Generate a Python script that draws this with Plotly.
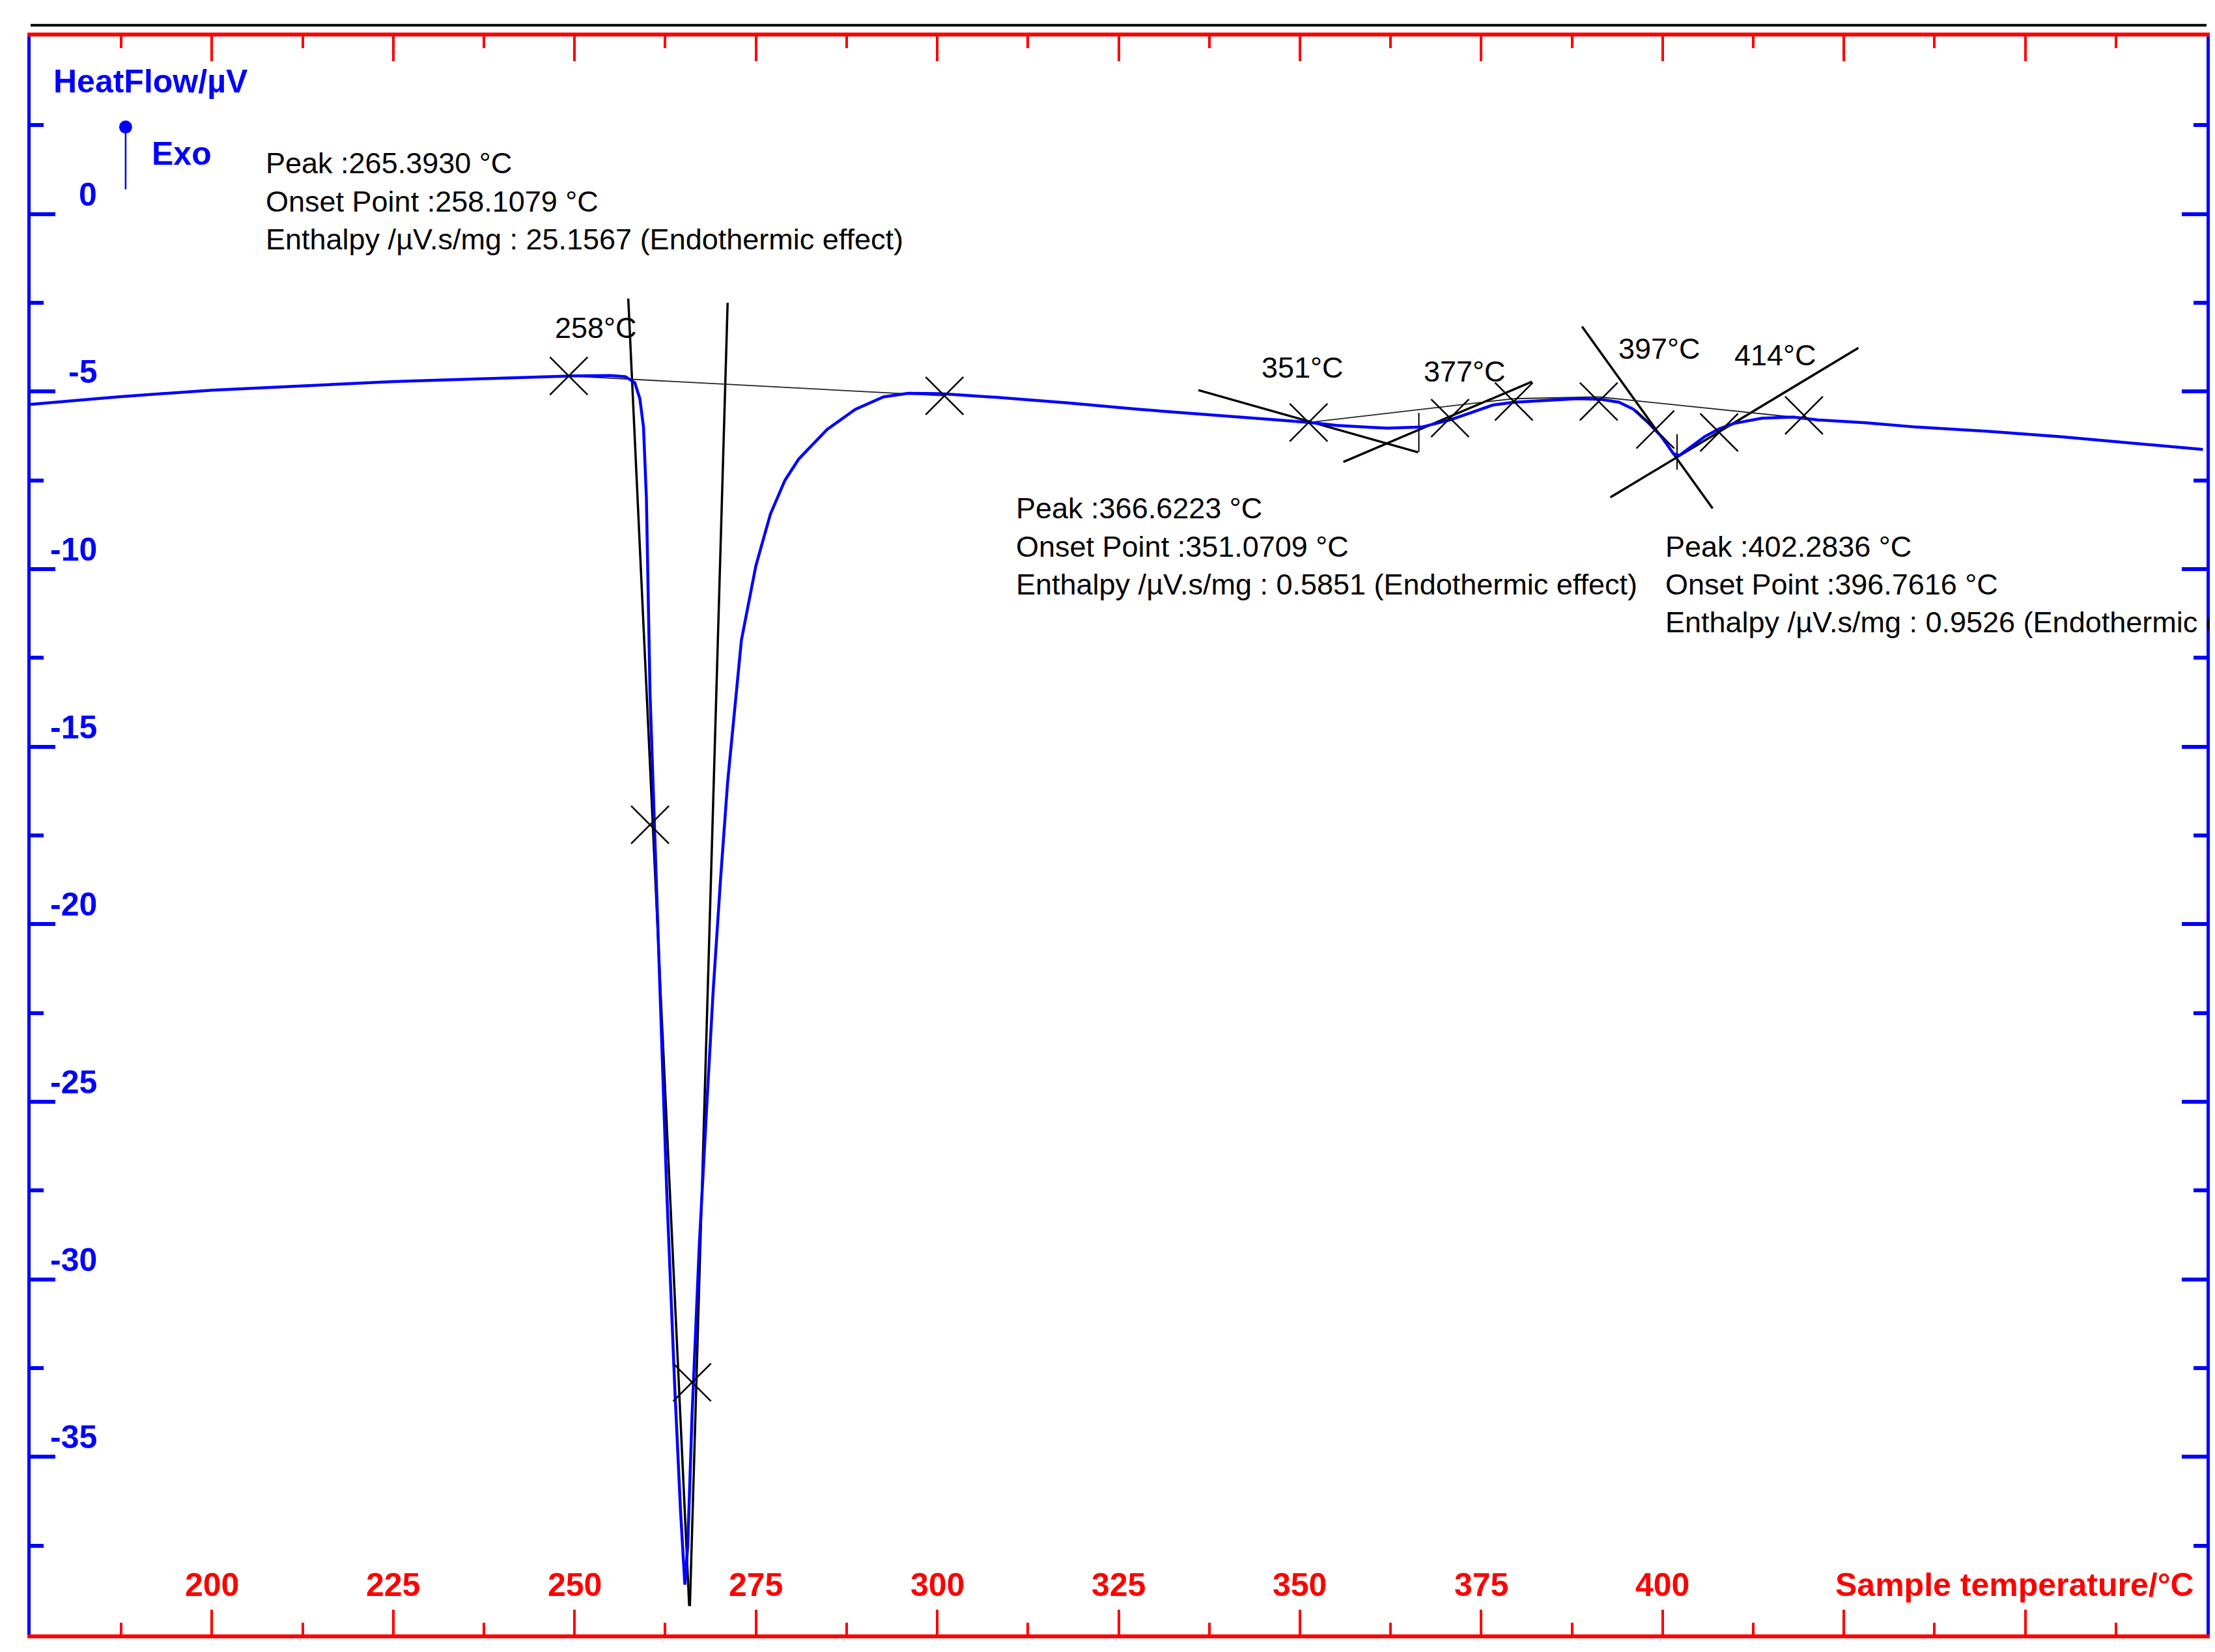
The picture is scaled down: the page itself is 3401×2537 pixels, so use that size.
import plotly.graph_objects as go

temp = [175, 187, 200, 212, 225, 237, 250, 255, 257, 258.3, 259.0, 259.5, 259.9, 260.4, 261.5, 262.7, 263.8, 264.6, 265.2, 265.6, 266.2,
        267.2, 268.2, 269.1, 270.1, 271.1, 273, 275, 277, 279, 280.9, 284.8, 288.7, 292.6, 296, 300.4, 308, 318, 327.7, 338, 347, 351.2,
        355, 358.9, 362, 366.8, 370.7, 373.5, 376.6, 379.5, 382.5, 388.3, 391.5, 394, 396, 398, 400, 401.5, 402.3, 404, 405.8, 407.8, 409.8,
        413.7, 418, 421.5, 428, 435, 445, 454.7, 465, 474.5]
heat = [-5.36, -5.15, -4.96, -4.85, -4.72, -4.64, -4.56, -4.55, -4.58, -4.75, -5.2, -6.0, -8.0, -13.5, -20.5, -27.5, -33.0, -36.5, -38.6, -37.5, -33.8,
        -29.0, -25.2, -21.9, -18.8, -16.0, -12.0, -9.9, -8.45, -7.5, -6.9, -6.07, -5.5, -5.15, -5.05, -5.06, -5.16, -5.32, -5.5, -5.65, -5.8, -5.87,
        -5.95, -6.0, -6.03, -6.0, -5.8, -5.6, -5.38, -5.3, -5.26, -5.2, -5.22, -5.3, -5.5, -5.87, -6.3, -6.75, -6.8, -6.55, -6.27, -6.05, -5.9,
        -5.75, -5.72, -5.8, -5.88, -6.0, -6.12, -6.27, -6.45, -6.63]

cross_x = [249.2, 260.4, 266.2, 301.0, 351.2, 370.7, 379.5, 391.2, 399.0, 407.8, 419.5]
cross_y = [-4.56, -17.2, -32.9, -5.12, -5.87, -5.75, -5.28, -5.28, -6.07, -6.15, -5.67]

tangents = [((257.4, -2.38), (265.8, -39.2)), ((271.1, -2.5), (265.9, -39.2)),
            ((336.0, -4.96), (366.3, -6.71)), ((356.0, -6.98), (382.0, -4.72)),
            ((388.9, -3.17), (406.9, -8.29)), ((392.8, -7.98), (427.0, -3.77))]
baselines = [((249.2, -4.56), (301.0, -5.12)), ((351.2, -5.87), (379.5, -5.2)),
             ((379.5, -5.2), (391.2, -5.15)), ((391.2, -5.15), (419.5, -5.75))]
vticks = [((366.4, -5.6), (366.4, -6.7)), ((402.0, -6.2), (402.0, -7.2))]

temp_labels = ["258°C", "351°C", "377°C", "397°C", "414°C"]
temp_label_x = [252.9, 350.4, 372.7, 399.6, 415.6]
temp_label_y = [-3.2, -4.33, -4.44, -3.8, -3.97]

blocks = [
    (207.2, [1.43, 0.36, -0.71], ["Peak :265.3930 °C", "Onset Point :258.1079 °C", "Enthalpy /µV.s/mg : 25.1567 (Endothermic effect)"]),
    (310.7, [-8.29, -9.37, -10.44], ["Peak :366.6223 °C", "Onset Point :351.0709 °C", "Enthalpy /µV.s/mg : 0.5851 (Endothermic effect)"]),
    (400.2, [-9.37, -10.44, -11.5], ["Peak :402.2836 °C", "Onset Point :396.7616 °C", "Enthalpy /µV.s/mg : 0.9526 (Endothermic e"]),
]

x_ticks = [200, 225, 250, 275, 300, 325, 350, 375, 400]
y_ticks = [0, -5, -10, -15, -20, -25, -30, -35]

FONT = "Liberation Sans, Arial"
BOLD = dict(family=FONT, size=50, weight="bold")
fig = go.Figure()
for (a, b) in tangents:
    fig.add_trace(go.Scatter(x=[a[0], b[0]], y=[a[1], b[1]], mode="lines", line=dict(color="black", width=3.5), hoverinfo="skip"))
for (a, b) in baselines:
    fig.add_trace(go.Scatter(x=[a[0], b[0]], y=[a[1], b[1]], mode="lines", line=dict(color="#222", width=1.8), hoverinfo="skip"))
for (a, b) in vticks:
    fig.add_trace(go.Scatter(x=[a[0], b[0]], y=[a[1], b[1]], mode="lines", line=dict(color="black", width=2), hoverinfo="skip"))
fig.add_trace(go.Scatter(x=temp, y=heat, mode="lines", line=dict(color="#0000ff", width=4.5)))
fig.add_trace(go.Scatter(x=cross_x, y=cross_y, mode="markers",
                         marker=dict(symbol="x-thin-open", size=58, color="black", line=dict(color="black", width=2.5))))

for t, x, y in zip(temp_labels, temp_label_x, temp_label_y):
    fig.add_annotation(x=x, y=y, text=t, showarrow=False, font=dict(family=FONT, size=45, color="black"))
for x, ys, texts in blocks:
    for y, t in zip(ys, texts):
        fig.add_annotation(x=x, y=y, text=t, showarrow=False, xanchor="left", font=dict(family=FONT, size=45, color="black"))
for v in x_ticks:
    fig.add_annotation(x=v, y=-38.6, text=str(v), showarrow=False, font=dict(BOLD, color="red"))
fig.add_annotation(x=473.5, y=-38.6, text="Sample temperature/°C", xanchor="right", showarrow=False, font=dict(BOLD, color="red"))
for v in y_ticks:
    fig.add_annotation(x=184.3, y=v + 0.55, text=str(v), showarrow=False, xanchor="right", font=dict(BOLD, color="#0000ff"))
fig.add_annotation(x=178, y=3.73, text="HeatFlow/µV", xanchor="left", showarrow=False, font=dict(BOLD, color="#0000ff"))
fig.add_annotation(x=191.5, y=1.7, text="Exo", xanchor="left", showarrow=False, font=dict(BOLD, color="#0000ff"))
fig.add_annotation(x=188.1, y=2.45, ax=188.1, ay=0.67, xref="x", yref="y", axref="x", ayref="y",
                   text="", showarrow=True, arrowhead=6, arrowsize=2, arrowwidth=2.5, arrowcolor="#0000ff")

fig.add_shape(type="line", xref="paper", yref="paper", x0=0, x1=1, y0=1.007, y1=1.007, line=dict(color="black", width=4))

fig.update_layout(width=3401, height=2537, margin=dict(l=39, r=21, t=48, b=35), showlegend=False,
                  plot_bgcolor="white", paper_bgcolor="white")
fig.update_xaxes(range=[175, 475], showgrid=False, zeroline=False, showline=True, linecolor="red", linewidth=6, mirror="allticks",
                 ticks="inside", tickcolor="red", tickwidth=3.5, ticklen=38, tick0=0, dtick=25, showticklabels=False,
                 minor=dict(ticks="inside", tickcolor="red", tickwidth=3.5, ticklen=18, dtick=12.5, tick0=0))
fig.update_yaxes(range=[-40, 5], showgrid=False, zeroline=False, showline=True, linecolor="#0000ff", linewidth=5, mirror="allticks",
                 ticks="inside", tickcolor="#0000ff", tickwidth=6, ticklen=38, tick0=0, dtick=5, showticklabels=False,
                 minor=dict(ticks="inside", tickcolor="#0000ff", tickwidth=6, ticklen=20, dtick=2.5, tick0=0))
fig.write_html("out.html")
